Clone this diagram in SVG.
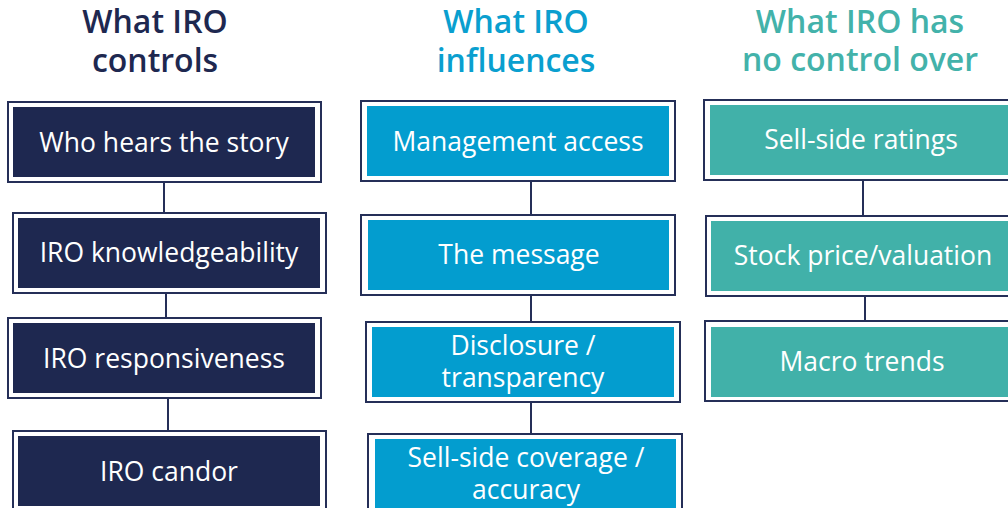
<svg xmlns="http://www.w3.org/2000/svg" width="1008" height="508" viewBox="0 0 1008 508">
  <style>
    .title { font-family: "Open Sans", "Noto Sans", sans-serif; font-weight: 600; font-size: 32px; text-anchor: middle; }
    .t-navy { fill: #1e2850; }
    .t-blue { fill: #0a9fcf; }
    .t-teal { fill: #43b2aa; }
    .frame { fill: #ffffff; stroke: #252f58; stroke-width: 2; }
    .navy { fill: #1e2850; }
    .blue { fill: #039dcf; }
    .teal { fill: #41b1a9; }
    .label { font-family: "Open Sans", "Noto Sans", sans-serif; font-size: 26.5px; fill: #ffffff; text-anchor: middle; }
    .link { stroke: #252f58; stroke-width: 2; fill: none; }
  </style>

  <!-- column headings -->
  <g id="heading-controls">
    <text class="title t-navy" x="155" y="33">What IRO</text>
    <text class="title t-navy" x="155" y="72">controls</text>
  </g>
  <g id="heading-influences">
    <text class="title t-blue" x="516" y="33">What IRO</text>
    <text class="title t-blue" x="516" y="72">influences</text>
  </g>
  <g id="heading-no-control">
    <text class="title t-teal" x="860" y="33">What IRO has</text>
    <text class="title t-teal" x="860" y="71">no control over</text>
  </g>

  <!-- connectors -->
  <g id="connectors">
    <line class="link" x1="164" y1="182" x2="164" y2="213"/>
    <line class="link" x1="166" y1="293" x2="166" y2="318"/>
    <line class="link" x1="168" y1="398" x2="168" y2="431"/>
    <line class="link" x1="531" y1="181" x2="531" y2="215"/>
    <line class="link" x1="531" y1="295" x2="531" y2="322"/>
    <line class="link" x1="531" y1="402" x2="531" y2="434"/>
    <line class="link" x1="863" y1="180" x2="863" y2="216"/>
    <line class="link" x1="865" y1="296" x2="865" y2="321"/>
  </g>

  <!-- What IRO controls -->
  <g id="who-hears">
    <rect class="frame" x="8" y="102" width="313" height="80"/>
    <rect class="navy" x="13" y="107" width="302" height="70"/>
    <text class="label" x="164" y="152">Who hears the story</text>
  </g>
  <g id="iro-knowledgeability">
    <rect class="frame" x="13" y="213" width="313" height="80"/>
    <rect class="navy" x="18" y="218" width="302" height="70"/>
    <text class="label" x="169" y="262">IRO knowledgeability</text>
  </g>
  <g id="iro-responsiveness">
    <rect class="frame" x="8" y="318" width="313" height="80"/>
    <rect class="navy" x="13" y="323" width="302" height="70"/>
    <text class="label" x="164" y="368">IRO responsiveness</text>
  </g>
  <g id="iro-candor">
    <rect class="frame" x="13" y="431" width="313" height="80"/>
    <rect class="navy" x="18" y="436" width="302" height="70"/>
    <text class="label" x="169" y="481">IRO candor</text>
  </g>

  <!-- What IRO influences -->
  <g id="management-access">
    <rect class="frame" x="361" y="101" width="314" height="80"/>
    <rect class="blue" x="367" y="106" width="302" height="70"/>
    <text class="label" x="518" y="151">Management access</text>
  </g>
  <g id="the-message">
    <rect class="frame" x="361" y="215" width="314" height="80"/>
    <rect class="blue" x="368" y="220" width="301" height="70"/>
    <text class="label" x="519" y="264">The message</text>
  </g>
  <g id="disclosure">
    <rect class="frame" x="366" y="322" width="314" height="80"/>
    <rect class="blue" x="372" y="327" width="302" height="70"/>
    <text class="label" x="523" y="355">Disclosure /</text>
    <text class="label" x="523" y="387">transparency</text>
  </g>
  <g id="sell-side-coverage">
    <rect class="frame" x="368" y="434" width="314" height="80"/>
    <rect class="blue" x="375" y="439" width="301" height="70"/>
    <text class="label" x="526" y="467">Sell-side coverage /</text>
    <text class="label" x="526" y="499">accuracy</text>
  </g>

  <!-- What IRO has no control over -->
  <g id="sell-side-ratings">
    <rect class="frame" x="704" y="100" width="313" height="80"/>
    <rect class="teal" x="710" y="105" width="302" height="70"/>
    <text class="label" x="861" y="149">Sell-side ratings</text>
  </g>
  <g id="stock-price">
    <rect class="frame" x="706" y="216" width="313" height="80"/>
    <rect class="teal" x="711" y="221" width="302" height="70"/>
    <text class="label" x="863" y="265">Stock price/valuation</text>
  </g>
  <g id="macro-trends">
    <rect class="frame" x="705" y="321" width="313" height="80"/>
    <rect class="teal" x="711" y="327" width="302" height="70"/>
    <text class="label" x="862" y="371">Macro trends</text>
  </g>
</svg>
